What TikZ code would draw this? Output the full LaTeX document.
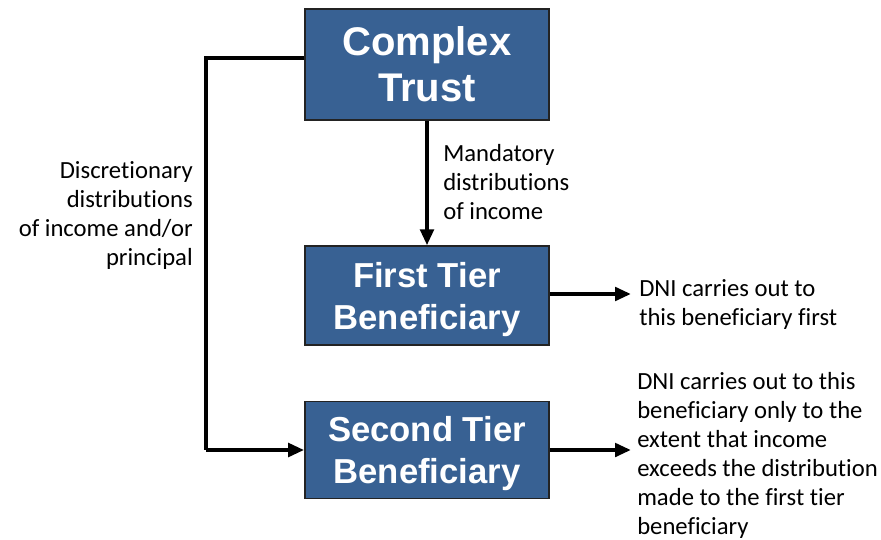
\documentclass[tikz,border=0pt]{standalone}
\usepackage{fontspec}
\setmainfont{Carlito}[RawFeature={-liga;-clig;-calt;-dlig}]
\newfontfamily\boxfont{Liberation Sans}
\usetikzlibrary{arrows.meta}
\definecolor{boxblue}{RGB}{56,97,147}
\definecolor{boxedge}{RGB}{35,35,35}
\tikzset{
  entity/.style={draw=boxedge, line width=1.2pt, fill=boxblue, text=white,
    minimum width=183pt, align=center, inner sep=0pt, text depth=0pt,
    font=\boxfont\bfseries\fontsize{26}{31.5}\selectfont},
  flow/.style={line width=3pt, -{Triangle[length=12pt,width=10pt]}},
  plainflow/.style={line width=3pt},
  note/.style={inner sep=0pt, font=\fontsize{18.5}{21.75}\selectfont},
}
\begin{document}
\begin{tikzpicture}[x=0.75pt, y=-0.75pt]
\useasboundingbox (0,0) rectangle (881,539);

% boxes
\node[entity, minimum height=83pt, font=\boxfont\bfseries\fontsize{30}{34.5}\selectfont]
  (trust) at (427,64.5) {Complex\\Trust};
\node[entity, minimum height=74pt] (first) at (427,295.5) {First Tier\\Beneficiary};
\node[entity, minimum height=72.75pt] (second) at (427,450) {Second Tier\\Beneficiary};

% connectors
\coordinate (elbowTop) at (206,58);
\coordinate (elbowBot) at (206,450);
\coordinate (firstOut) at (631,294);
\coordinate (secondOut) at (631,450);

\draw[plainflow, line join=miter] (trust.west |- elbowTop) -- (elbowTop) -- (elbowBot);
\draw[flow] (elbowBot) -- (second.west |- elbowBot);
\draw[flow] (trust.south) -- (first.north);
\draw[flow] (first.east |- firstOut) -- (firstOut);
\draw[flow] (second.east |- secondOut) -- (secondOut);

% labels
\node[note, anchor=east, align=right] (disc) at (193,215)
  {Discretionary\\distributions\\of income and/or\hspace{3.8pt}\\principal};
\node[note, anchor=west, align=left] (mand) at (443,182)
  {Mandatory\\distributions\\of income};
\node[note, anchor=west, align=left] (dni1) at (639,304)
  {DNI carries out to\\this beneficiary first};
\node[note, anchor=west, align=left] (dni2) at (637,455.5)
  {DNI carries out to this\\beneficiary only to the\\extent that income\\exceeds the distribution\\made to the first tier\\beneficiary};
\end{tikzpicture}
\end{document}
